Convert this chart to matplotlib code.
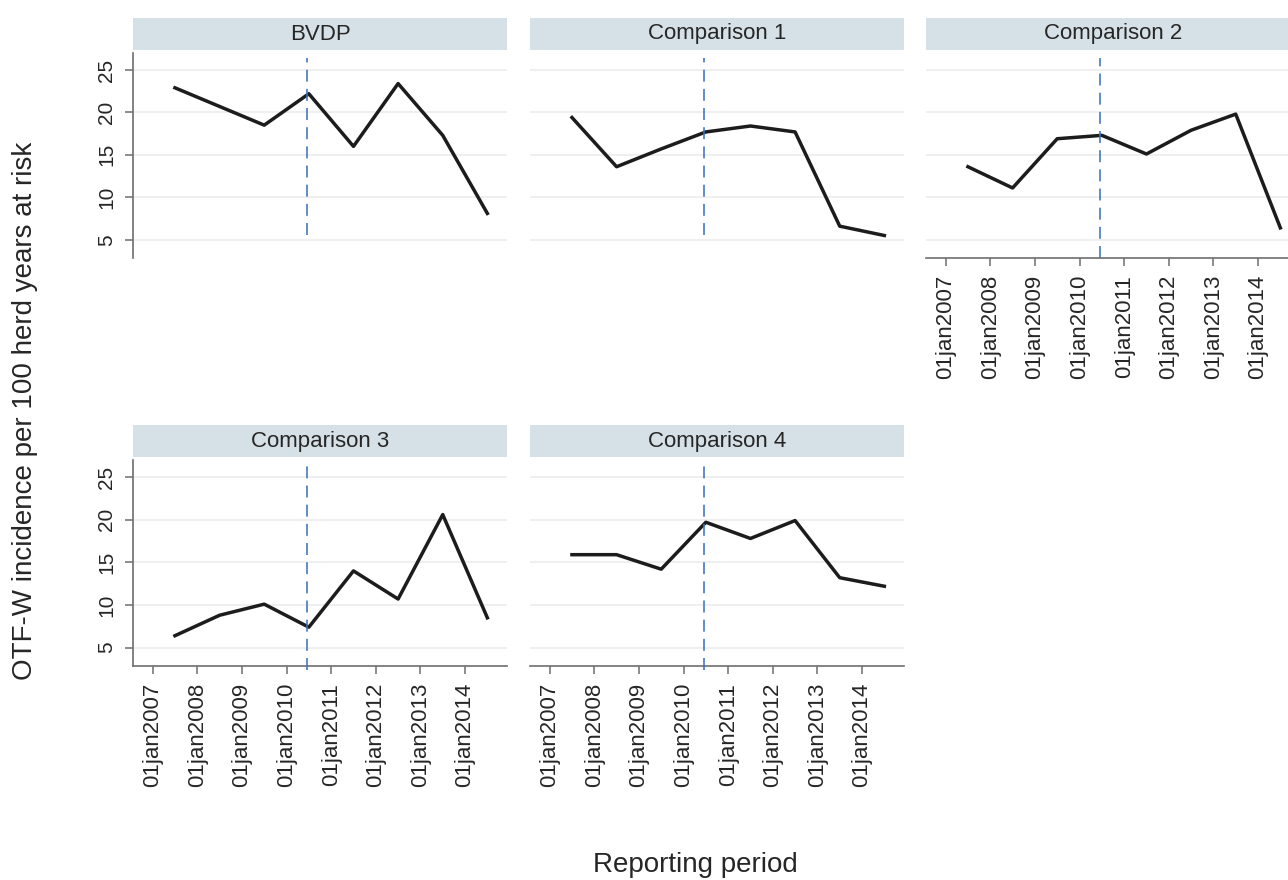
import matplotlib
matplotlib.use("Agg")
import matplotlib.pyplot as plt

plt.rcParams['font.family'] = ['Liberation Sans', 'DejaVu Sans']

# reporting periods (mid-year) and OTF-W incidence per 100 herd years at risk
years = [2007.5, 2008.5, 2009.5, 2010.5, 2011.5, 2012.5, 2013.5, 2014.5]
panels = ["BVDP", "Comparison 1", "Comparison 2", "Comparison 3", "Comparison 4"]
bvdp = [22.9, 20.7, 18.5, 22.2, 16.0, 23.4, 17.3, 8.1]
comp1 = [19.4, 13.6, 15.7, 17.7, 18.4, 17.7, 6.6, 5.5]
comp2 = [13.6, 11.1, 16.9, 17.3, 15.1, 17.9, 19.8, 6.4]
comp3 = [6.4, 8.8, 10.1, 7.4, 14.0, 10.7, 20.6, 8.5]
comp4 = [15.9, 15.9, 14.2, 19.7, 17.8, 19.9, 13.2, 12.2]
series = [bvdp, comp1, comp2, comp3, comp4]

intervention = 2010.45
tick_years = [2007, 2008, 2009, 2010, 2011, 2012, 2013, 2014]
tick_labels = [f"01jan{y}" for y in tick_years]
y_ticks = [5, 10, 15, 20, 25]

W, H = 1288, 880
fig = plt.figure(figsize=(W / 100, H / 100), dpi=100)

# panel geometry in pixels: (plot top, plot bottom, header top, header bottom)
col_left = [133, 530, 926]
pw = 374
rows = [(53, 258, 18, 50), (460, 666, 425, 457)]
strip_color = "#d6e1e7"
axis_color = "#6e6e6e"
text_color = "#262626"
dash_style = dict(color="#3f72c0", lw=1.15, ls=(0, (7.5, 4.5)), zorder=4)

for i, name in enumerate(panels):
    r, c = divmod(i, 3)
    top, bot, htop, hbot = rows[r]
    left = col_left[c]
    ax = fig.add_axes([left / W, 1 - bot / H, pw / W, (bot - top) / H])
    hax = fig.add_axes([left / W, 1 - hbot / H, pw / W, (hbot - htop) / H])
    hax.set_facecolor(strip_color)
    hax.set_xticks([])
    hax.set_yticks([])
    for s in hax.spines.values():
        s.set_visible(False)
    hax.text(0.5, 0.5, name, ha="center", va="center", fontsize=16,
             color=text_color, transform=hax.transAxes)

    ax.set_xlim(2006.56, 2014.94)
    ax.set_ylim(2.85, 27.0)
    for y in y_ticks:
        ax.axhline(y, color="#ebebeb", lw=1.1, zorder=0)
    ax.plot(years, series[i], color="#1c1c1c", lw=2.5, zorder=3)

    # intervention date
    if i == 2:
        ax.axvline(intervention, ymin=0.0, ymax=0.975, **dash_style)
    elif r == 0:
        ax.axvline(intervention, ymin=0.11, ymax=0.975, **dash_style)
    else:
        ax.axvline(intervention, ymin=-0.02, ymax=1.0, clip_on=False, **dash_style)

    for s in ["top", "right"]:
        ax.spines[s].set_visible(False)

    show_y = c == 0
    show_x = i >= 2
    ax.spines["left"].set_visible(show_y)
    ax.spines["bottom"].set_visible(show_x)
    for s in ["left", "bottom"]:
        ax.spines[s].set_color(axis_color)
        ax.spines[s].set_linewidth(1.2)

    if show_y:
        ax.set_yticks(y_ticks)
        ax.set_yticklabels([str(v) for v in y_ticks], rotation=90, va="center",
                           fontsize=15, color=text_color)
        ax.tick_params(axis="y", length=6, width=1.1, color=axis_color, pad=6)
    else:
        ax.set_yticks([])

    if show_x:
        ax.set_xticks(tick_years)
        ax.set_xticklabels(tick_labels, rotation=90, fontsize=16, color=text_color)
        ax.tick_params(axis="x", length=6, width=1.1, color=axis_color, pad=6)
    else:
        ax.set_xticks([])

fig.text(25 / W, 1 - 411 / H, "OTF-W incidence per 100 herd years at risk",
         rotation=90, ha="center", va="center", fontsize=20, color=text_color)
fig.text(695 / W, 1 - 865 / H, "Reporting period", ha="center", va="center",
         fontsize=20, color=text_color)

fig.savefig("out.png", dpi=100)
